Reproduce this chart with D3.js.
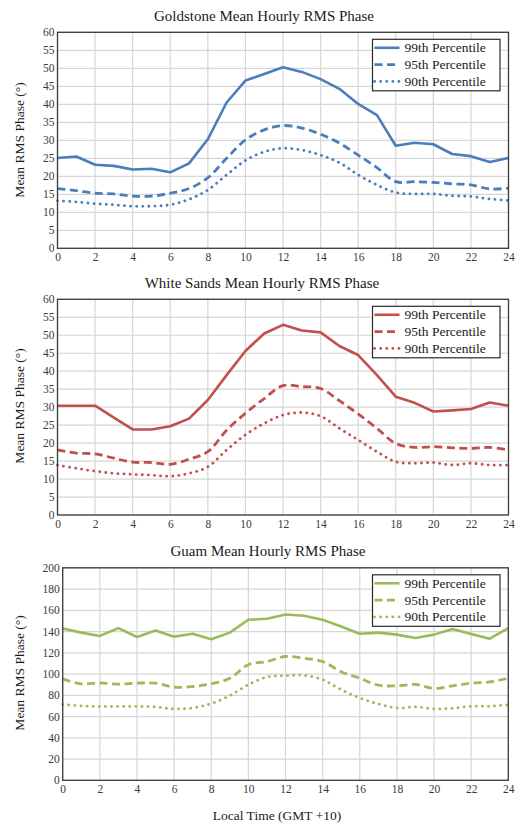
<!DOCTYPE html>
<html>
<head>
<meta charset="utf-8">
<script src="https://cdn.jsdelivr.net/npm/d3@7"></script>
<style>
  html, body { margin: 0; padding: 0; background: #ffffff; }
  svg { display: block; }
  text { font-family: "Liberation Serif", "Times New Roman", serif; }
</style>
</head>
<body>
<svg id="chart" width="524" height="825"></svg>
<script>
// ---------- DATA ----------
const hours = [0,1,2,3,4,5,6,7,8,9,10,11,12,13,14,15,16,17,18,19,20,21,22,23,24];
const xTicks = [0,2,4,6,8,10,12,14,16,18,20,22,24];
const seriesNames = ["99th Percentile", "95th Percentile", "90th Percentile"];

const titles = ["Goldstone Mean Hourly RMS Phase", "White Sands Mean Hourly RMS Phase", "Guam Mean Hourly RMS Phase"];
const yTicksSmall = [0,5,10,15,20,25,30,35,40,45,50,55,60];
const yTicksGuam = [0,20,40,60,80,100,120,140,160,180,200];

const goldstone99 = [25.1,25.5,23.2,22.9,21.9,22.1,21.1,23.6,30.3,40.5,46.6,48.4,50.3,49.0,47.0,44.3,40.1,37.0,28.5,29.3,28.9,26.2,25.6,24.0,25.1];
const goldstone95 = [16.6,16.0,15.3,15.1,14.5,14.5,15.3,16.6,19.6,25.0,30.1,32.9,34.1,33.4,31.7,29.2,25.9,22.4,18.5,18.5,18.3,17.9,17.6,16.5,16.7];
const goldstone90 = [13.2,12.9,12.4,12.1,11.7,11.7,12.1,13.6,16.2,20.4,24.4,26.8,27.8,27.3,25.9,23.8,20.4,17.6,15.5,15.1,15.1,14.6,14.4,13.7,13.3];

const whiteSands99 = [30.4,30.4,30.4,27.1,23.8,23.8,24.7,26.8,32.0,38.9,45.6,50.5,52.9,51.3,50.8,47.0,44.5,38.9,32.9,31.2,28.8,29.1,29.5,31.3,30.4];
const whiteSands95 = [18.1,17.2,17.0,15.8,14.7,14.6,14.1,15.5,17.6,23.6,28.3,32.4,36.0,35.7,35.2,31.8,28.1,24.1,19.9,18.8,19.0,18.7,18.5,18.8,18.1];
const whiteSands90 = [13.9,13.0,12.2,11.6,11.3,11.1,10.8,11.6,13.4,18.1,22.3,25.5,27.8,28.5,27.5,24.1,20.9,17.6,14.8,14.4,14.6,13.9,14.4,13.9,13.9];

const guam99 = [142.9,139.0,135.9,143.2,134.9,141.0,135.2,138.0,132.7,139.0,151.1,152.0,156.0,154.9,151.1,144.8,138.0,139.0,137.1,134.0,137.1,142.5,137.8,133.3,143.2];
const guam95 = [95.4,90.8,91.7,90.5,91.4,91.4,87.7,88.3,90.8,96.0,108.8,111.8,116.5,114.8,111.8,102.2,96.0,89.5,88.9,90.2,86.5,88.9,91.4,92.6,96.0];
const guam90 = [71.5,70.0,69.5,69.5,69.5,69.0,67.2,68.1,72.2,79.7,90.0,97.2,98.4,98.8,94.7,85.3,77.5,71.9,68.1,69.1,67.2,67.8,69.7,69.7,71.2];

const colors = ["#4A7EBB", "#C0504D", "#9BBB59"];

// ---------- LAYOUT ----------
const panels = [
  { title: titles[0], titleX: 264, titleY: 21, left: 57.5, right: 508.5, top: 32.3, bottom: 248.3,
    yMax: 60, yTicks: yTicksSmall, color: colors[0], series: [goldstone99, goldstone95, goldstone90], labelY: 140 },
  { title: titles[1], titleX: 262, titleY: 288, left: 57.5, right: 508.5, top: 299.3, bottom: 515,
    yMax: 60, yTicks: yTicksSmall, color: colors[1], series: [whiteSands99, whiteSands95, whiteSands90], labelY: 406 },
  { title: titles[2], titleX: 268, titleY: 556, left: 62.7, right: 508.3, top: 567.8, bottom: 780.3,
    yMax: 200, yTicks: yTicksGuam, color: colors[2], series: [guam99, guam95, guam90], labelY: 673 }
];

const svg = d3.select("#chart");
const styles = [
  { dash: null, width: 2.6, cap: "butt" },
  { dash: "8,4.5", width: 2.8, cap: "butt" },
  { dash: "0.1,6", width: 2.8, cap: "round" }
];

panels.forEach(p => {
  const g = svg.append("g");
  const x = d3.scaleLinear().domain([0, 24]).range([p.left, p.right]);
  const y = d3.scaleLinear().domain([0, p.yMax]).range([p.bottom, p.top]);

  // title
  g.append("text").attr("x", p.titleX).attr("y", p.titleY)
    .attr("text-anchor", "middle").attr("font-size", 15).attr("fill", "#1a1a1a")
    .text(p.title);

  // gridlines
  g.append("g").selectAll("line.h").data(p.yTicks).join("line")
    .attr("x1", p.left).attr("x2", p.right)
    .attr("y1", d => y(d)).attr("y2", d => y(d))
    .attr("stroke", "#d6d6d6").attr("stroke-width", 1.2);
  g.append("g").selectAll("line.v").data(xTicks).join("line")
    .attr("x1", d => x(d)).attr("x2", d => x(d))
    .attr("y1", p.top).attr("y2", p.bottom)
    .attr("stroke", "#d6d6d6").attr("stroke-width", 1.2);

  // axes
  const yAxis = d3.axisLeft(y).tickValues(p.yTicks).tickSize(0).tickPadding(3);
  const yg = g.append("g").attr("transform", `translate(${p.left},0)`).call(yAxis);
  yg.select(".domain").remove();
  yg.selectAll("text").attr("font-size", 11.5).attr("fill", "#3a3a3a")
    .attr("font-family", "'Liberation Serif', serif");

  const xAxis = d3.axisBottom(x).tickValues(xTicks).tickSize(0).tickPadding(5);
  const xg = g.append("g").attr("transform", `translate(0,${p.bottom})`).call(xAxis);
  xg.select(".domain").remove();
  xg.selectAll("text").attr("font-size", 11.5).attr("fill", "#3a3a3a")
    .attr("font-family", "'Liberation Serif', serif");

  // y label
  g.append("text")
    .attr("transform", `translate(24,${p.labelY}) rotate(-90)`)
    .attr("text-anchor", "middle").attr("font-size", 13.5).attr("fill", "#1a1a1a")
    .text("Mean RMS Phase (°)");

  // lines
  p.series.forEach((vals, i) => {
    const line = d3.line()
      .x((d, j) => x(hours[j]))
      .y(d => y(d))
      .curve(i === 0 ? d3.curveLinear : d3.curveCatmullRom.alpha(0.5));
    g.append("path").datum(vals)
      .attr("d", line)
      .attr("fill", "none")
      .attr("stroke", p.color)
      .attr("stroke-width", styles[i].width)
      .attr("stroke-linecap", styles[i].cap)
      .attr("stroke-linejoin", "round")
      .attr("stroke-dasharray", styles[i].dash);
  });

  // frame
  g.append("rect").attr("x", p.left).attr("y", p.top)
    .attr("width", p.right - p.left).attr("height", p.bottom - p.top)
    .attr("fill", "none").attr("stroke", "#3c3c3c").attr("stroke-width", 1.3);

  // legend
  const lx = 372.5, lw = 127.5, ly = p.top + 7, lh = 51.5;
  const lg = g.append("g");
  lg.append("rect").attr("x", lx).attr("y", ly).attr("width", lw).attr("height", lh)
    .attr("fill", "#ffffff").attr("stroke", "#2a2a2a").attr("stroke-width", 1.2);
  seriesNames.forEach((name, i) => {
    const ry = ly + 8.5 + i * 16.8;
    lg.append("line").attr("x1", lx + 2).attr("x2", lx + 27)
      .attr("y1", ry).attr("y2", ry)
      .attr("stroke", p.color)
      .attr("stroke-width", styles[i].width)
      .attr("stroke-linecap", styles[i].cap)
      .attr("stroke-dasharray", styles[i].dash);
    lg.append("text").attr("x", lx + 32).attr("y", ry + 4.5)
      .attr("font-size", 13.5).attr("fill", "#1a1a1a").text(name);
  });
});

// x axis label
svg.append("text").attr("x", 277).attr("y", 820)
  .attr("text-anchor", "middle").attr("font-size", 13.5).attr("fill", "#1a1a1a")
  .text("Local Time (GMT +10)");
</script>
</body>
</html>
